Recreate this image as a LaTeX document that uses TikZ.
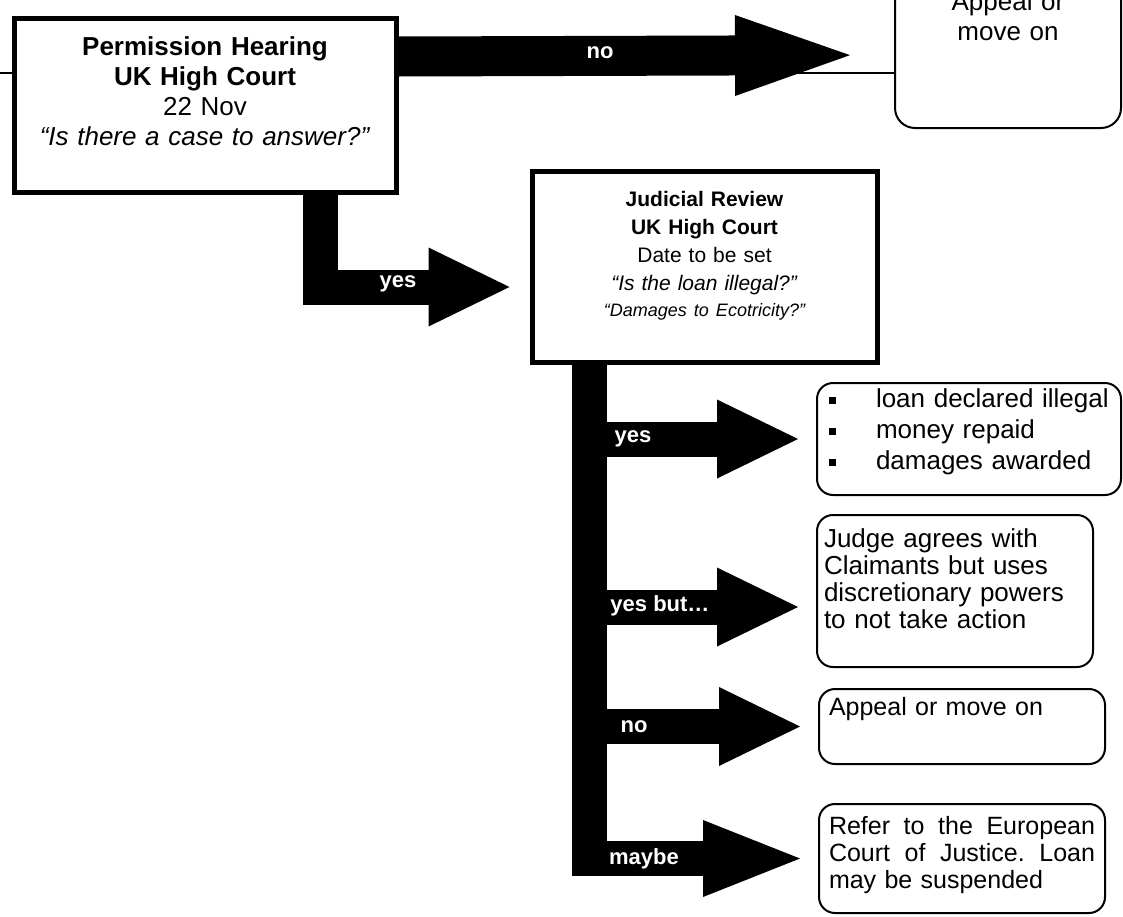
\documentclass[tikz,border=0pt]{standalone}
\usepackage{fontspec}
\setmainfont{Liberation Sans}
\usetikzlibrary{arrows.meta}
\newcommand{\sqitem}{\makebox[23.5pt][l]{\rule[1.6pt]{3.5pt}{3.5pt}}}

\begin{document}
\begin{tikzpicture}[x=0.5pt,y=-0.5pt]
\clip (0,0) rectangle (1123,916);
\tikzstyle{hearing}=[draw,line width=2.5pt,fill=white,anchor=north west,inner sep=0pt,align=center,font=\fontsize{13}{15}\selectfont]
\tikzstyle{outcome}=[draw,line width=1pt,rounded corners=8pt,fill=white,anchor=north west,inner ysep=0pt,inner xsep=5pt,font=\fontsize{12.5}{13.5}\selectfont]
\tikzstyle{fat}=[draw,line width=17.5pt,-{Triangle[length=40.5pt,width=39.5pt,line width=0pt]},shorten >=9pt]
\tikzstyle{branch}=[text=white,inner sep=0pt,font=\bfseries\fontsize{11}{13}\selectfont]

\draw (11.5,15.5) node[hearing,text width=191pt,text height=18.75pt,text depth=68.25pt] (hearing1)
  {\textbf{Permission Hearing}\\\textbf{UK High Court}\\22 Nov\\\textit{“Is there a case to answer?”}};
\draw (529.5,168.5) node[hearing,text width=172.5pt,text height=17.5pt,text depth=78pt,font=\fontsize{10.5}{14}\selectfont] (hearing2)
  {\textbf{Judicial Review}\\\textbf{UK High Court}\\Date to be set\\\textit{“Is the loan illegal?”}\\[-1pt]{\fontsize{9}{11}\selectfont\itshape “Damages to Ecotricity?”}};

\draw (894,-93) node[outcome,rounded corners=10pt,text width=103pt,align=center,text height=51pt,text depth=59pt,font=\fontsize{13}{15}\selectfont] (appeal1) {Appeal or\\move on};
\draw (816,382) node[outcome,inner xsep=6pt,text width=140pt,align=left,text height=12pt,text depth=44pt,font=\fontsize{13}{15.5}\selectfont] (bullets)
  {\sqitem loan declared illegal\\\sqitem money repaid\\\sqitem damages awarded};
\draw (816,514) node[outcome,inner xsep=3.5pt,text width=131pt,align=left,text height=16pt,text depth=60pt,font=\fontsize{13}{13.5}\selectfont] (judge)
  {Judge agrees with\\Claimants but uses\\discretionary powers\\to not take action};
\draw (818,688) node[outcome,text width=133pt,align=left,text height=13pt,text depth=24.5pt] (appeal2) {Appeal or move on};
\draw (818,803) node[outcome,text width=133pt,align=left,text height=15pt,text depth=39.5pt] (refer)
  {\makebox[133pt][s]{Refer\hfill to\hfill the\hfill European}\\\makebox[133pt][s]{Court\hfill of\hfill Justice.\hfill Loan}\\may be suspended};

% thin rule behind the top arrow
\coordinate (rail) at (0,73);
\draw[line width=0.75pt] (rail) -- (rail -| hearing1.west) (rail -| hearing1.east) -- (rail -| appeal1.west);

\draw[fat,line width=20pt,-{Triangle[length=57.5pt,width=40.5pt,line width=0pt]},shorten >=22pt] ([yshift=24.25pt]hearing1.east) -- ([yshift=-18.5pt]appeal1.west);
\draw[fat,shorten >=10pt] ([xshift=57.5pt]hearing1.south) |- ([yshift=-10.25pt]hearing2.west);
\draw[fat] ([xshift=-57.75pt]hearing2.south) |- (bullets.west);
\draw[fat] ([xshift=-57.75pt]hearing2.south) |- ([yshift=-8pt]judge.west);
\draw[fat] ([xshift=-57.75pt]hearing2.south) |- (appeal2.west);
\draw[fat,-{Triangle[length=48.5pt,width=38.5pt,line width=0pt]}] ([xshift=-57.75pt]hearing2.south) |- (refer.west);

\draw (600,53) node[branch] (lblno) {no};
\draw (398,284) node[branch] (lblyes) {yes};
\draw (633,439) node[branch] (lblwin) {yes};
\draw (660,606) node[branch] (lblbut) {yes but…};
\draw (634,727) node[branch] (lbllose) {no};
\draw (644,859) node[branch] (lblmaybe) {maybe};
\end{tikzpicture}
\end{document}
